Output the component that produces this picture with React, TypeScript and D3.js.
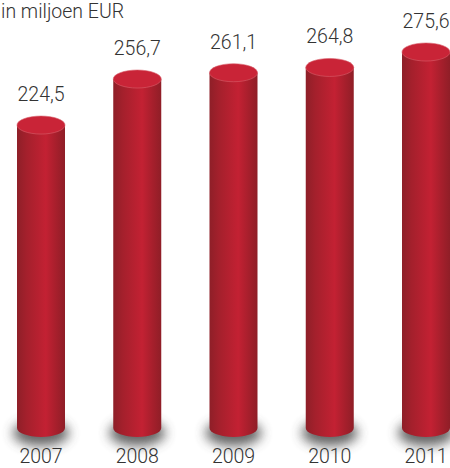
import { useEffect, useRef } from 'react'
import * as d3 from 'd3'

const years = ['2007', '2008', '2009', '2010', '2011']
const revenue = [224.5, 256.7, 261.1, 264.8, 275.6]
const unitLabel = 'in miljoen EUR'

const width = 450
const height = 468
const barWidth = 48
const ry = 9
const fontFamily = 'Roboto, "Liberation Sans", Arial, sans-serif'
const fontSize = '19.5px'

const nl = d3.formatLocale({ decimal: ',', thousands: '.', grouping: [3], currency: ['€', ''] })
const fmt = nl.format('.1f')

export default function App() {
  const svgRef = useRef<SVGSVGElement>(null)

  useEffect(() => {
    if (!svgRef.current) return
    const svg = d3.select(svgRef.current)
    svg.selectAll('*').remove()

    const x = d3.scalePoint<string>().domain(years).range([41, 426])
    const y = d3.scaleLinear().domain([12.6, 275.6]).range([428, 52])
    const rx = barWidth / 2

    const defs = svg.append('defs')

    const body = defs.append('linearGradient').attr('id', 'cyl')
    body.append('stop').attr('offset', '0').attr('stop-color', '#8e1f28')
    body.append('stop').attr('offset', '0.2').attr('stop-color', '#a4202c')
    body.append('stop').attr('offset', '0.6').attr('stop-color', '#c32133')
    body.append('stop').attr('offset', '0.82').attr('stop-color', '#a61f2c')
    body.append('stop').attr('offset', '1').attr('stop-color', '#8f1e27')

    defs.append('filter')
      .attr('id', 'blur')
      .attr('x', '-50%').attr('y', '-150%')
      .attr('width', '200%').attr('height', '400%')
      .append('feGaussianBlur')
      .attr('stdDeviation', 6)

    const bars = svg.selectAll('g.bar')
      .data(years)
      .enter().append('g')
      .attr('class', 'bar')
      .attr('transform', d => `translate(${x(d)},0)`)

    // soft shadow below each cylinder
    bars.append('ellipse')
      .attr('cx', 0)
      .attr('cy', y(12.6) + 5)
      .attr('rx', rx + 4)
      .attr('ry', ry + 4)
      .attr('fill', '#4a4a4a')
      .attr('opacity', 0.85)
      .attr('filter', 'url(#blur)')

    // cylinder body
    bars.append('path')
      .attr('d', (_, i) => {
        const top = y(revenue[i])
        const bottom = y(12.6)
        return `M${-rx},${top}L${-rx},${bottom}A${rx},${ry} 0 0 0 ${rx},${bottom}L${rx},${top}Z`
      })
      .attr('fill', 'url(#cyl)')

    // top cap
    bars.append('ellipse')
      .attr('cx', 0)
      .attr('cy', (_, i) => y(revenue[i]))
      .attr('rx', rx)
      .attr('ry', ry)
      .attr('fill', '#c92437')
      .attr('stroke', '#d9606c')
      .attr('stroke-width', 0.6)

    bars.append('text')
      .attr('y', (_, i) => y(revenue[i]) - 24)
      .attr('text-anchor', 'middle')
      .style('font-family', fontFamily)
      .style('font-weight', '300')
      .style('font-size', fontSize)
      .style('fill', '#333')
      .text((_, i) => fmt(revenue[i]))

    bars.append('text')
      .attr('y', 463)
      .attr('text-anchor', 'middle')
      .style('font-family', fontFamily)
      .style('font-weight', '300')
      .style('font-size', fontSize)
      .style('fill', '#333')
      .text(d => d)

    svg.append('text')
      .attr('x', 1)
      .attr('y', 18)
      .style('font-family', fontFamily)
      .style('font-weight', '300')
      .style('font-size', fontSize)
      .style('fill', '#333')
      .text(unitLabel)
  }, [])

  return (
    <svg
      ref={svgRef}
      width={width}
      height={height}
      style={{ position: 'absolute', left: 0, top: 0, background: '#fff' }}
    />
  )
}
